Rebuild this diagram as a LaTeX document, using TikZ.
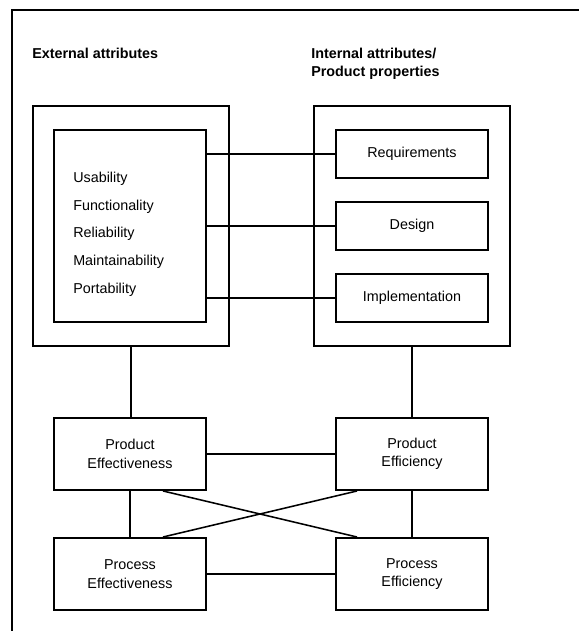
\documentclass[tikz,border=0pt]{standalone}
\usepackage{fontspec}
\setmainfont{Liberation Sans}
\usepackage{tikz}
\usetikzlibrary{positioning}

\begin{document}
\begin{tikzpicture}[
  box/.style={draw, line width=1.4pt, minimum width=3.8cm, inner sep=0pt, align=center, font=\fontsize{10.2}{13}\selectfont},
  group/.style={draw, line width=1.4pt, minimum width=4.9cm, minimum height=6.0cm, inner sep=0pt},
  list/.style={align=left, inner sep=0pt, font=\fontsize{10.2}{19.7}\selectfont},
  link/.style={line width=1.1pt},
  head/.style={font=\bfseries\fontsize{10.2}{13}\selectfont, align=left, anchor=base west, inner sep=0pt},
]
  \useasboundingbox (0,0) rectangle (14.475,15.775);

  % Frame (left and top edge)
  \draw[line width=1.4pt] (0.30,0) -- (0.30,15.525) -- (14.475,15.525);

  % Headings
  \node[head] (exthead) at (0.80,14.3) {External attributes};
  \node[head] (inthead) at (7.775,13.86) {Internal attributes/\\Product properties};

  % Attribute groups
  \node[group] (extgrp) at (3.275,10.125) {};
  \node[group] (intgrp) at (10.3,10.125) {};

  % External attributes list
  \node[box, minimum height=4.8cm] (attrbox) at (3.25,10.125) {};
  \node[list, anchor=west] (attrs) at (1.825,9.925)
    {Usability\\Functionality\\Reliability\\Maintainability\\Portability};

  % Product properties
  \foreach \name/\y/\lab in {req/11.925/Requirements, design/10.125/Design, impl/8.325/Implementation} {
    \node[box, minimum height=1.2cm] (\name) at (10.3,\y) {\lab};
    \draw[link] (attrbox.east |- \name.west) -- (\name.west);
  }

  % Effectiveness / efficiency
  \node[box, minimum height=1.8cm] (prodeff) at (3.25,4.425) {Product\\Effectiveness};
  \node[box, minimum height=1.8cm] (prodeffi) at (10.3,4.425) {Product\\Efficiency};
  \node[box, minimum height=1.8cm] (proceff) at (3.25,1.425) {Process\\Effectiveness};
  \node[box, minimum height=1.8cm] (proceffi) at (10.3,1.425) {Process\\Efficiency};

  % Connections
  \draw[link] (extgrp.south) -- (extgrp.south |- prodeff.north);
  \draw[link] (intgrp.south) -- (prodeffi.north);
  \draw[link] (prodeff) -- (prodeffi);
  \draw[link] (proceff) -- (proceffi);
  \draw[link] (prodeff) -- (proceff);
  \draw[link] (prodeffi) -- (proceffi);
  \draw[link] ([xshift=0.825cm]prodeff.south) -- ([xshift=-1.375cm]proceffi.north);
  \draw[link] ([xshift=-1.375cm]prodeffi.south) -- ([xshift=0.825cm]proceff.north);

\end{tikzpicture}
\end{document}
